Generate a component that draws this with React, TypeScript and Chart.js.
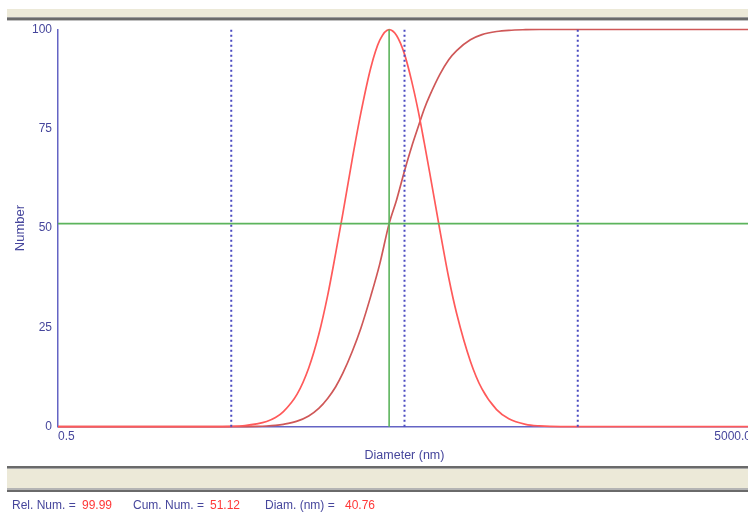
import React, { useEffect, useRef } from 'react';
import { Chart, registerables } from 'chart.js';

Chart.register(...registerables);

// Diameter (nm) sample points
const DIAMETERS = [0.5, 4, 5, 6, 7, 8, 9, 10, 12, 14, 16, 18, 20, 22, 25, 28, 32, 36, 40.76, 45, 50, 55, 60, 65, 70, 80, 90, 100, 120, 140, 170, 200, 250, 300, 400, 500, 1000, 5000];
// Relative number distribution (%)
const REL_NUMBER = [0, 0, 0.1, 0.3, 0.7, 1.3, 2.3, 3.8, 8.2, 14.8, 23.2, 33.0, 43.5, 53.5, 67.5, 79.0, 90.5, 97.3, 99.99, 98.5, 93.8, 87.0, 79.5, 71.5, 63.8, 49.5, 37.5, 28.5, 16.5, 9.5, 4.3, 2.0, 0.6, 0.2, 0, 0, 0, 0];
// Cumulative number (%)
const CUM_NUMBER = [0, 0, 0, 0.03, 0.08, 0.17, 0.33, 0.6, 1.4, 2.7, 4.6, 7.1, 10.0, 13.4, 19.0, 24.8, 33.0, 41.0, 51.12, 57.1, 64.4, 70.5, 75.5, 80.0, 83.4, 88.7, 92.4, 94.7, 97.4, 98.7, 99.5, 99.8, 99.95, 100, 100, 100, 100, 100];

const MARKER_DIAMETERS = [5, 50, 500];
const CURSOR_DIAMETER = 40.76;
const CURSOR_REL = 99.99;
const CURSOR_CUM = 51.12;

const X_MIN = 0.5;
const X_MAX = 5000;
const X_TICKS = [0.5, 5000];
const Y_MIN = 0;
const Y_MAX = 100;
const Y_TICKS = [0, 25, 50, 75, 100];

const TEXT_BLUE = '#46469c';
const AXIS_BLUE = '#6464c4';
const FONT = '"Liberation Sans", Arial, sans-serif';

export default function App() {
  const canvasRef = useRef<HTMLCanvasElement | null>(null);

  useEffect(() => {
    const canvas = canvasRef.current;
    if (!canvas) return;

    const markerSets = MARKER_DIAMETERS.map((d) => ({
      label: 'marker ' + d,
      data: [{ x: d, y: Y_MIN }, { x: d, y: Y_MAX }],
      borderColor: '#4a4ac0',
      borderWidth: 2,
      borderDash: [2, 3],
      pointRadius: 0,
      tension: 0,
      clip: 4,
      order: 0,
    }));

    const chart = new Chart(canvas, {
      type: 'line',
      data: {
        datasets: [
          ...markerSets,
          {
            label: 'cursor x',
            data: [{ x: CURSOR_DIAMETER, y: Y_MIN }, { x: CURSOR_DIAMETER, y: Y_MAX }],
            borderColor: '#5cb45c',
            borderWidth: 1.6,
            pointRadius: 0,
            tension: 0,
            clip: 4,
            order: 1,
          },
          {
            label: 'cursor y',
            data: [{ x: X_MIN, y: CURSOR_CUM }, { x: X_MAX, y: CURSOR_CUM }],
            borderColor: '#5cb45c',
            borderWidth: 1.6,
            pointRadius: 0,
            tension: 0,
            clip: 4,
            order: 1,
          },
          {
            label: 'Rel. Num.',
            data: DIAMETERS.map((d, i) => ({ x: d, y: REL_NUMBER[i] })),
            borderColor: '#ff5a5a',
            borderWidth: 1.7,
            pointRadius: 0,
            cubicInterpolationMode: 'monotone',
            clip: 4,
            order: 2,
          },
          {
            label: 'Cum. Num.',
            data: DIAMETERS.map((d, i) => ({ x: d, y: CUM_NUMBER[i] })),
            borderColor: '#cf5858',
            borderWidth: 1.7,
            pointRadius: 0,
            cubicInterpolationMode: 'monotone',
            clip: 4,
            order: 3,
          },
        ],
      },
      options: {
        animation: false,
        responsive: false,
        devicePixelRatio: 1,
        events: [],
        layout: { padding: { left: 8, top: 29.5, right: 0, bottom: 46.3 } },
        plugins: {
          legend: { display: false },
          tooltip: { enabled: false },
          title: { display: false },
        },
        scales: {
          x: {
            type: 'logarithmic',
            min: X_MIN,
            max: X_MAX,
            afterBuildTicks: (s: any) => {
              s.ticks = X_TICKS.map((v) => ({ value: v }));
            },
            afterFit: (s: any) => {
              s.height = 40;
            },
            ticks: {
              callback: (v: any) => Number(v).toFixed(1),
              align: 'inner',
              padding: 0,
              maxRotation: 0,
              autoSkip: false,
              color: TEXT_BLUE,
              font: { family: FONT, size: 12 },
            },
            grid: { display: false, drawTicks: true, tickLength: 3 },
            border: { display: true, color: AXIS_BLUE, width: 1.5 },
            title: {
              display: true,
              text: 'Diameter (nm)',
              color: TEXT_BLUE,
              font: { family: FONT, size: 12.5 },
              padding: { top: 4, bottom: 4 },
            },
          },
          y: {
            type: 'linear',
            min: Y_MIN,
            max: Y_MAX,
            afterBuildTicks: (s: any) => {
              s.ticks = Y_TICKS.map((v) => ({ value: v }));
            },
            afterFit: (s: any) => {
              s.width = 50;
            },
            ticks: {
              padding: 6,
              color: TEXT_BLUE,
              font: { family: FONT, size: 12 },
            },
            grid: { display: false, drawTicks: false },
            border: { display: true, color: AXIS_BLUE, width: 1.5 },
            title: {
              display: true,
              text: 'Number',
              color: TEXT_BLUE,
              font: { family: FONT, size: 13 },
              padding: { top: 5, bottom: 0 },
            },
          },
        },
      },
    } as any);

    return () => {
      chart.destroy();
    };
  }, []);

  const band = (top: number, height: number, color: string) => (
    <div style={{ position: 'absolute', left: 7, top, width: 741, height, background: color }} />
  );

  const statusText = (left: number, text: string, color: string) => (
    <span
      style={{
        position: 'absolute',
        left,
        top: 498,
        fontFamily: FONT,
        fontSize: 12,
        lineHeight: '14px',
        color,
        whiteSpace: 'pre',
      }}
    >
      {text}
    </span>
  );

  return (
    <div style={{ position: 'fixed', left: 0, top: 0, width: 748, height: 513, background: '#ffffff', overflow: 'hidden' }}>
      <canvas ref={canvasRef} width={751} height={513} style={{ position: 'absolute', left: 0, top: 0 }} />
      {band(9, 8, '#ece9d8')}
      {band(17, 1, '#9c9c9c')}
      {band(18, 2, '#6a6a6a')}
      {band(20, 1, '#c0c0c0')}
      {band(466, 2, '#6a6a6a')}
      {band(468, 1, '#a8a8a8')}
      {band(469, 19, '#ece9d8')}
      {band(488, 2, '#b4b4b4')}
      {band(490, 2, '#6a6a6a')}
      {statusText(12, 'Rel. Num. =', TEXT_BLUE)}
      {statusText(82, CURSOR_REL.toFixed(2), '#ff3838')}
      {statusText(133, 'Cum. Num. =', TEXT_BLUE)}
      {statusText(210, CURSOR_CUM.toFixed(2), '#ff3838')}
      {statusText(265, 'Diam. (nm) =', TEXT_BLUE)}
      {statusText(345, CURSOR_DIAMETER.toFixed(2), '#ff3838')}
    </div>
  );
}
